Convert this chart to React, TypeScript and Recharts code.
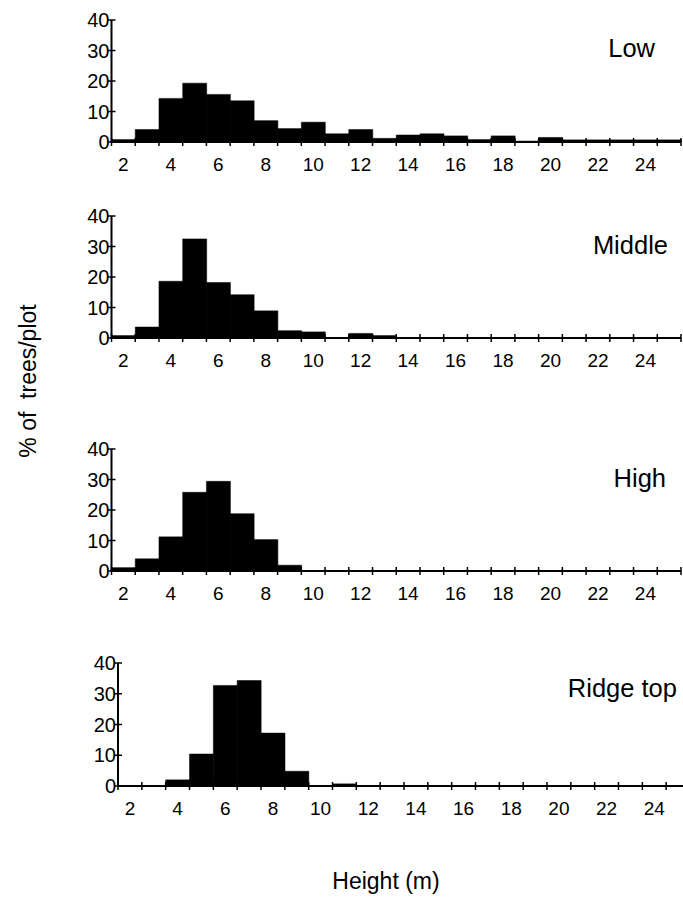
import React from 'react';
import {BarChart, Bar, XAxis, YAxis} from 'recharts';

// tree height classes (m), one bar per class
const heights = [2, 3, 4, 5, 6, 7, 8, 9, 10, 11, 12, 13, 14, 15, 16, 17, 18, 19, 20, 21, 22, 23, 24, 25];

// % of trees/plot per height class, by slope position
const low = [0.8, 4.1, 14.3, 19.3, 15.6, 13.5, 7.0, 4.4, 6.5, 2.7, 4.1, 1.2, 2.3, 2.7, 2.0, 0.8, 2.0, 0.3, 1.5, 0.7, 0.7, 0.7, 0.7, 0.7];
const middle = [0.8, 3.6, 18.6, 32.5, 18.2, 14.2, 8.9, 2.4, 2.0, 0, 1.5, 0.8, 0, 0, 0, 0, 0, 0, 0, 0, 0, 0, 0, 0];
const high = [1.1, 4.0, 11.2, 25.8, 29.4, 18.8, 10.3, 1.9, 0, 0, 0, 0, 0, 0, 0, 0, 0, 0, 0, 0, 0, 0, 0, 0];
const ridgeTop = [0, 0, 2.0, 10.4, 32.7, 34.3, 17.2, 4.8, 0, 0.7, 0, 0, 0, 0, 0, 0, 0, 0, 0, 0, 0, 0, 0, 0];

const yTicks = [0, 10, 20, 30, 40];

const FONT = '"Liberation Sans", Arial, Helvetica, sans-serif';

interface PanelProps {
    values: number[];
    top: number;
    left: number;
    right: number;
    plotHeight: number;
    showRight?: boolean;
}

const Panel: React.FC<PanelProps> = ({values, top, left, right, plotHeight, showRight = true}) => {
    const data = heights.map((h, i) => ({h, v: values[i]}));
    const W = 700;
    const yW = 50;
    const xH = 45;
    const mTop = 10;
    const bw = (right - left) / heights.length;

    const xTick = (p: any) => {
        const {x, y, payload, index} = p;
        const h = payload.value;
        return (
            <g>
                <line x1={x - bw / 2} x2={x - bw / 2} y1={y - 4} y2={y + 4} stroke="#000" strokeWidth={1.5}/>
                {index === heights.length - 1 &&
                    <line x1={x + bw / 2} x2={x + bw / 2} y1={y - 4} y2={y + 4} stroke="#000" strokeWidth={1.5}/>}
                {h % 2 === 0 &&
                    <text x={x} y={y + 29} textAnchor="middle" fontSize={19} fontFamily={FONT} fill="#000">{h}</text>}
            </g>
        );
    };

    const yTick = (p: any) => {
        const {x, y, payload} = p;
        return (
            <g>
                <line x1={x - 4} x2={x + 4} y1={y} y2={y} stroke="#000" strokeWidth={1.5}/>
                <text x={x - 2} y={y} dy="0.36em" textAnchor="end" fontSize={20} fontFamily={FONT} fill="#000">
                    {payload.value}
                </text>
            </g>
        );
    };

    return (
        <div style={{position: 'absolute', left: 0, top: top - mTop}}>
            <BarChart width={W} height={mTop + plotHeight + xH} data={data} barCategoryGap={0}
                      margin={{top: mTop, right: W - right, bottom: 0, left: left - yW}}>
                <XAxis dataKey="h" interval={0} tickSize={0} tickMargin={0} tick={xTick} tickLine={false}
                       height={xH} axisLine={{stroke: '#000', strokeWidth: 2}}/>
                <XAxis xAxisId="top" orientation="top" dataKey="h" height={0} tick={false} tickLine={false}
                       axisLine={{stroke: '#000', strokeWidth: 1.5}}/>
                <YAxis domain={[0, 40]} ticks={yTicks} width={yW} tickSize={0} tickMargin={0} tick={yTick}
                       tickLine={false} axisLine={{stroke: '#000', strokeWidth: 2}}/>
                {showRight &&
                    <YAxis yAxisId="r" orientation="right" width={0} tick={false} tickLine={false}
                           axisLine={{stroke: '#000', strokeWidth: 1.5}}/>}
                <Bar dataKey="v" fill="#000" stroke="#000" strokeWidth={0.5} isAnimationActive={false}/>
            </BarChart>
        </div>
    );
};

const titleStyle = {fontFamily: FONT, fill: '#000'};

const App: React.FC = () => (
    <div style={{position: 'absolute', left: 0, top: 0, width: 683, height: 901, overflow: 'hidden', background: '#fff'}}>
        <Panel values={low} top={20} left={111.5} right={681} plotHeight={122}/>
        <Panel values={middle} top={216} left={111.5} right={681} plotHeight={122}/>
        <Panel values={high} top={449} left={111.5} right={681} plotHeight={122}/>
        <Panel values={ridgeTop} top={663} left={118} right={690} plotHeight={123} showRight={false}/>
        <svg width={683} height={901} style={{position: 'absolute', left: 0, top: 0, pointerEvents: 'none'}}>
            <text x={655} y={57} textAnchor="end" fontSize={25.5} style={titleStyle}>Low</text>
            <text x={668} y={254} textAnchor="end" fontSize={25.5} style={titleStyle}>Middle</text>
            <text x={666} y={487} textAnchor="end" fontSize={25.5} style={titleStyle}>High</text>
            <text x={677} y={697} textAnchor="end" fontSize={25.5} style={titleStyle}>Ridge top</text>
            <text x={386} y={889} textAnchor="middle" fontSize={23} style={titleStyle}>Height (m)</text>
            <text x={28} y={381} textAnchor="middle" dominantBaseline="central" fontSize={23}
                  transform="rotate(-90 28 381)" style={{...titleStyle, whiteSpace: 'pre'}}>
                % of  trees/plot
            </text>
        </svg>
    </div>
);

export default App;
